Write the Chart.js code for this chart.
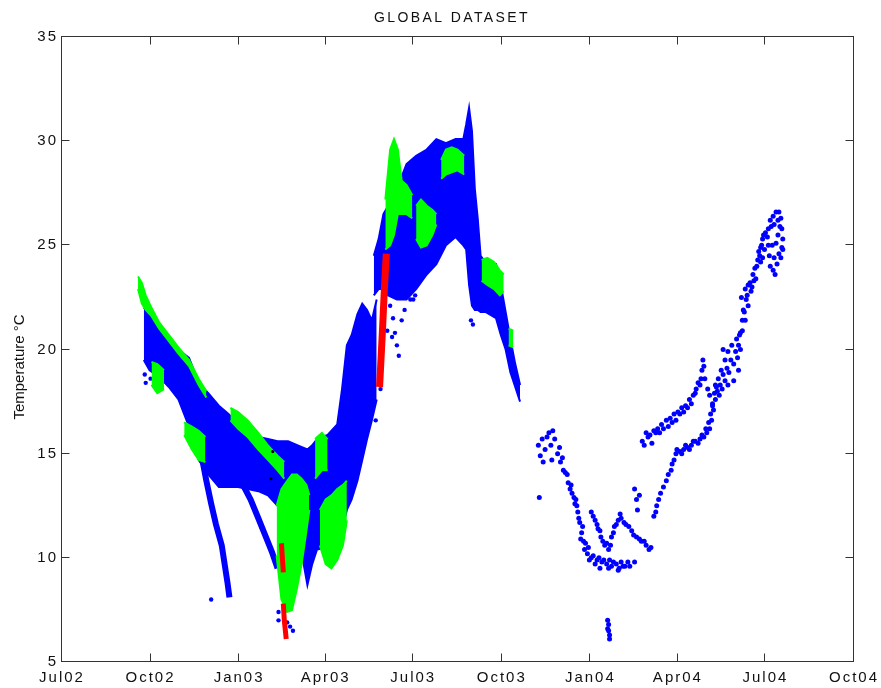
<!DOCTYPE html>
<html>
<head>
<meta charset="utf-8">
<title>GLOBAL DATASET</title>
<script src="https://cdn.jsdelivr.net/npm/chart.js@4.4.1/dist/chart.umd.min.js"></script>
<style>
  html, body { margin: 0; padding: 0; background: #fff; }
  canvas { display: block; }
</style>
</head>
<body>
<canvas id="chart" width="881" height="688"></canvas>
<script>
// x = days since 1 Jul 2002, y = temperature in °C
const tickDays = [0, 92, 184, 274, 365, 457, 549, 640, 731, 823];
const tickLabels = ['Jul02', 'Oct02', 'Jan03', 'Apr03', 'Jul03', 'Oct03', 'Jan04', 'Apr04', 'Jul04', 'Oct04'];
const tempTicks = [5, 10, 15, 20, 25, 30, 35];

// dense clouds: [day, lowest, highest]
const blueOct02Apr03 = [
  [85, 19.5, 22.0], [91, 19.0, 21.8], [101, 18.7, 21.1], [111, 18.2, 20.6], [121, 17.6, 20.0],
  [132, 16.3, 19.6], [142, 14.7, 18.4], [152, 14.0, 17.9], [163, 13.4, 17.3], [173, 13.4, 16.9],
  [183, 13.4, 16.4], [193, 13.3, 16.1], [204, 13.2, 15.8], [214, 13.0, 15.7], [224, 12.5, 15.6],
  [235, 12.4, 15.6], [245, 11.8, 15.4], [250, 10.0, 15.3], [255, 8.7, 15.2], [260, 9.7, 15.4],
  [265, 10.4, 15.7], [276, 10.5, 15.9], [286, 10.9, 16.4], [291, 11.3, 18.1], [296, 12.3, 20.2],
  [301, 12.8, 20.7], [307, 13.7, 21.7], [312, 14.7, 22.2], [317, 15.7, 21.9], [322, 16.6, 21.4],
  [327, 17.6, 22.4]
];
const blueMay03Oct03 = [
  [324, 22.6, 24.5], [329, 22.9, 25.3], [334, 22.9, 26.5], [339, 22.6, 26.9], [348, 22.4, 27.7],
  [358, 22.4, 28.9], [368, 22.9, 29.3], [379, 23.6, 29.6], [389, 24.1, 30.1], [399, 25.0, 29.9],
  [409, 25.4, 30.1], [417, 25.0, 30.1], [420, 24.8, 30.8], [423, 23.1, 31.6], [426, 22.1, 30.5],
  [429, 21.9, 27.7], [432, 21.9, 26.3], [435, 21.8, 24.5], [440, 21.8, 24.2], [451, 21.5, 24.1],
  [456, 20.7, 23.1], [461, 20.0, 21.8], [466, 18.9, 20.5], [471, 18.2, 19.3], [476, 17.5, 18.3]
];

const greenOct02Edge = [
  [79, 22.9, 23.5], [83, 22.2, 23.2], [87, 21.9, 22.6], [93, 21.6, 22.0], [101, 21.0, 21.3],
  [111, 20.4, 20.7], [121, 19.8, 20.1], [132, 19.2, 19.5], [142, 18.3, 18.6], [150, 17.7, 18.0]
];
const greenOct02Patch = [[93, 18.3, 19.4], [99, 17.9, 19.3], [106, 18.1, 19.0]];
const greenDec02Patch = [[127, 15.9, 16.5], [135, 15.2, 16.3], [142, 14.7, 16.1], [149, 14.6, 15.8]];
const greenJan03Ridge = [
  [175, 16.6, 17.2], [183, 16.2, 17.0], [193, 15.8, 16.6], [204, 15.2, 16.0],
  [214, 14.7, 15.4], [224, 14.2, 14.9], [231, 13.8, 14.6]
];
const greenFeb03Lobe = [
  [223, 10.1, 12.5], [228, 8.0, 13.3], [234, 7.4, 13.7], [239, 7.5, 14.0],
  [244, 8.5, 14.0], [249, 9.7, 13.8], [254, 11.3, 13.5], [257, 12.3, 13.0]
];
const greenMar03Top = [[263, 13.8, 15.7], [270, 14.2, 16.0], [276, 14.2, 15.7]];
const greenMar03Lobe = [[268, 10.6, 12.3], [274, 9.7, 12.8], [280, 9.5, 13.0], [286, 9.9, 13.3], [292, 10.6, 13.5], [296, 11.8, 13.7]];
const greenJun03Peak = [[336, 24.8, 27.2], [341, 25.0, 29.6], [345, 25.5, 30.1], [349, 26.5, 29.6], [353, 26.5, 28.1], [358, 26.5, 27.9], [364, 26.3, 27.4]];
const greenJul03 = [[368, 25.3, 26.9], [373, 24.9, 27.2], [379, 25.0, 26.9], [385, 25.5, 26.7], [389, 26.0, 26.5]];
const greenAug03 = [[394, 28.2, 29.1], [399, 28.4, 29.6], [405, 28.5, 29.7], [411, 28.6, 29.6], [418, 28.4, 29.3]];
const greenSep03 = [[436, 23.3, 24.3], [442, 23.1, 24.4], [449, 22.9, 24.2], [455, 22.6, 23.8], [459, 22.8, 23.6]];
const greenOct03 = [[464, 20.2, 21.0], [469, 20.1, 20.9]];

// streaks: [day, temperature]
const blueStreakDec02 = [[145, 14.9], [150, 13.7], [155, 12.6], [160, 11.6], [166, 10.6], [169, 9.7], [172, 8.8], [174, 8.1]];
const blueStreakJan03 = [[188, 13.5], [196, 12.8], [204, 11.9], [211, 11.1], [218, 10.3], [224, 9.5]];
const redFeb03Upper = [[228, 10.7], [229, 10.0], [230, 9.3]];
const redFeb03Lower = [[230, 7.8], [231, 7.0], [233, 6.1]];
const redMay03 = [[330, 18.2], [333, 20.9], [335, 22.9], [337, 24.6]];

// single readings: [day, temperature]
const blueScatter2003 = [
  [87, 18.4], [92, 18.6], [86, 18.8], [155, 8.0], [225, 7.4], [225, 7.0], [234, 6.9], [237, 6.7], [240, 6.5],
  [341, 22.1], [344, 21.5], [346, 20.8], [348, 20.2], [350, 19.7], [343, 20.6], [353, 21.4], [356, 21.9],
  [338, 20.9], [332, 19.5], [331, 18.1], [326, 16.6], [362, 22.4], [365, 22.4], [367, 22.6], [425, 21.4], [427, 21.2]
];
const blackMarks = [[219, 15.1], [217, 13.8]];
const blueNov03Jan04 = [
  [495, 15.4], [497, 14.9], [499, 15.7], [502, 15.2], [504, 15.8], [506, 16.0], [508, 15.4], [510, 16.1],
  [512, 15.7], [509, 14.7], [500, 14.6], [496, 12.9], [515, 15.0], [518, 14.6], [523, 14.1], [526, 13.6],
  [530, 13.1], [533, 12.6], [536, 12.2], [538, 11.7], [540, 11.2], [542, 10.8], [543, 10.4], [546, 10.2],
  [550, 10.0], [556, 9.9], [561, 9.8], [566, 9.7], [571, 9.6], [576, 9.7], [581, 9.8], [585, 9.6], [590, 9.6],
  [521, 14.2], [528, 13.3], [535, 12.5], [539, 10.9], [548, 9.9], [559, 9.5], [569, 9.9], [579, 9.5], [595, 9.8],
  [517, 15.3], [520, 14.8], [525, 14.0], [529, 13.5], [532, 12.9], [534, 12.8], [537, 11.9], [541, 11.5],
  [544, 10.7], [547, 10.5], [552, 10.1], [554, 9.7], [558, 10.0], [563, 9.9], [568, 9.5], [573, 9.8],
  [578, 9.4], [583, 9.6], [588, 9.8],
  [567, 7.0], [568, 6.8], [568, 6.5], [569, 6.3], [569, 6.1], [567, 6.6]
];
const blueJan04Apr04 = [
  [550, 12.2], [554, 11.8], [557, 11.4], [560, 11.0], [564, 10.6], [568, 10.4], [571, 11.0], [574, 11.5],
  [578, 11.8], [581, 11.9], [586, 11.6], [592, 11.3], [597, 11.0], [602, 10.8], [607, 10.6], [612, 10.5],
  [552, 12.0], [556, 11.6], [559, 11.3], [562, 10.8], [566, 10.7], [570, 10.6], [573, 11.2], [576, 11.6],
  [580, 12.1], [584, 11.7], [589, 11.5], [594, 11.1], [600, 10.9], [605, 10.8], [610, 10.4],
  [595, 13.3], [597, 12.8], [600, 13.0], [598, 12.3], [615, 12.0], [618, 12.5], [622, 13.1], [628, 13.7],
  [633, 14.2], [636, 14.7], [639, 15.2], [617, 12.2], [620, 12.8], [625, 13.4], [630, 14.0], [634, 14.5], [638, 15.0],
  [642, 15.1], [646, 15.2], [650, 15.3], [654, 15.4], [658, 15.6],
  [663, 15.7], [667, 15.8], [670, 16.0], [673, 16.2], [675, 16.6], [677, 17.1], [679, 17.6], [681, 18.0],
  [644, 15.0], [648, 15.4], [652, 15.2], [656, 15.6], [661, 15.5], [665, 15.9], [669, 16.2], [672, 16.5],
  [674, 16.9], [676, 17.4], [678, 17.9], [680, 18.2],
  [603, 15.6], [607, 16.0], [611, 15.9], [615, 16.1], [619, 16.2], [623, 16.4], [628, 16.6], [632, 16.7],
  [636, 16.9], [640, 17.0], [644, 17.2], [648, 17.3], [652, 17.6], [656, 17.8], [659, 18.1], [663, 18.3],
  [665, 19.0], [666, 19.5], [668, 18.6], [671, 18.1], [673, 17.8], [676, 17.3],
  [605, 15.4], [613, 15.5], [621, 16.0], [630, 16.3], [638, 16.6], [646, 17.0], [654, 17.4],
  [609, 15.8], [617, 16.0], [625, 16.2], [634, 16.5], [642, 16.9], [650, 17.2], [658, 17.9], [661, 18.4],
  [664, 18.6], [667, 19.2]
];
const blueApr04Jul04 = [
  [684, 18.3], [687, 18.8], [691, 19.1], [695, 19.5], [700, 19.9], [703, 20.2],
  [683, 17.8], [686, 18.1], [689, 18.5], [693, 18.9], [698, 19.3], [702, 19.6], [705, 20.0],
  [682, 18.6], [685, 19.0], [689, 19.5], [692, 19.9], [696, 20.2], [701, 20.5], [704, 20.7],
  [687, 20.0], [692, 18.3], [698, 18.5], [703, 19.0], [679, 18.3],
  [705, 20.8], [707, 21.4], [708, 21.9], [706, 22.5], [710, 22.9], [713, 23.1], [715, 23.2], [718, 23.6],
  [720, 23.9], [723, 24.3], [725, 24.5], [726, 24.9], [728, 25.3], [731, 25.6], [734, 25.8], [736, 26.2],
  [739, 26.4], [742, 26.6], [745, 26.6], [747, 26.3], [748, 25.8], [749, 25.3], [749, 24.8], [747, 24.4],
  [743, 24.1], [741, 23.6], [739, 23.8], [735, 24.5], [738, 25.0], [742, 25.1], [744, 25.5], [730, 24.8],
  [726, 24.2], [711, 22.4], [716, 22.8], [721, 23.4], [728, 24.4], [734, 25.0], [710, 21.4], [713, 22.1],
  [707, 20.9], [709, 21.8], [712, 22.6], [717, 23.0], [719, 23.3], [722, 24.0], [724, 24.7], [727, 25.0],
  [729, 25.5], [733, 25.4], [737, 25.9], [740, 26.0], [744, 26.2], [746, 25.9], [748, 24.9], [745, 24.6],
  [740, 24.4], [736, 24.0]
];

const BLUE = '#0000ff';
const GREEN = '#00ff00';
const RED = '#ff0000';
const FONT = "'Liberation Sans', Arial, Helvetica, sans-serif";

const datasets = [];

// filled envelope between lowest and highest reading
function band(rows, color, order) {
  datasets.push({
    type: 'line', order, data: rows.map(r => ({ x: r[0], y: r[1] })),
    borderColor: color, borderWidth: 2, pointRadius: 0, fill: false
  });
  datasets.push({
    type: 'line', order, data: rows.map(r => ({ x: r[0], y: r[2] })),
    borderColor: color, borderWidth: 2, pointRadius: 0, fill: '-1', backgroundColor: color
  });
}

function streak(rows, color, order, width) {
  datasets.push({
    type: 'line', order, data: rows.map(r => ({ x: r[0], y: r[1] })),
    borderColor: color, borderWidth: width, pointRadius: 0, fill: false
  });
}

function dots(rows, color, order, radius) {
  datasets.push({
    type: 'line', order, showLine: false, data: rows.map(r => ({ x: r[0], y: r[1] })),
    pointRadius: radius, pointBorderWidth: 0, pointBackgroundColor: color, borderColor: color
  });
}

band(blueOct02Apr03, BLUE, 3);
band(blueMay03Oct03, BLUE, 3);
streak(blueStreakDec02, BLUE, 3, 6);
streak(blueStreakJan03, BLUE, 3, 6);
dots(blueScatter2003, BLUE, 3, 2.2);
dots(blueNov03Jan04, BLUE, 3, 2.5);
dots(blueJan04Apr04, BLUE, 3, 2.5);
dots(blueApr04Jul04, BLUE, 3, 2.5);

[greenOct02Edge, greenOct02Patch, greenDec02Patch, greenJan03Ridge, greenFeb03Lobe, greenMar03Top,
 greenMar03Lobe, greenJun03Peak, greenJul03, greenAug03, greenSep03, greenOct03].forEach(g => band(g, GREEN, 2));

streak(redFeb03Upper, RED, 1, 5);
streak(redFeb03Lower, RED, 1, 5);
streak(redMay03, RED, 1, 7);
dots(blackMarks, '#000', 0, 1.6);

// Рамка, внутренние засечки и подписи
const framePlugin = {
  id: 'frame',
  beforeDraw(chart) {
    chart.ctx.letterSpacing = '2px';
  },
  afterDraw(chart) {
    const { ctx, chartArea: a, scales } = chart;
    const L = Math.round(a.left) - 0.5, R = Math.round(a.right) - 0.5;
    const T = Math.round(a.top) - 0.5, B = Math.round(a.bottom) - 0.5;
    ctx.save();
    ctx.strokeStyle = '#333';
    ctx.lineWidth = 1;
    ctx.setLineDash([]);
    ctx.strokeRect(L, T, R - L, B - T);
    ctx.beginPath();
    tickDays.forEach(v => {
      const px = Math.round(scales.x.getPixelForValue(v)) - 0.5;
      ctx.moveTo(px, B); ctx.lineTo(px, B - 8);
      ctx.moveTo(px, T); ctx.lineTo(px, T + 8);
    });
    tempTicks.forEach(v => {
      const py = Math.round(scales.y.getPixelForValue(v)) - 0.5;
      ctx.moveTo(L, py); ctx.lineTo(L + 8, py);
      ctx.moveTo(R, py); ctx.lineTo(R - 8, py);
    });
    ctx.stroke();

    ctx.fillStyle = '#111';
    ctx.letterSpacing = '2.4px';
    ctx.font = '14px ' + FONT;
    ctx.textAlign = 'center';
    ctx.textBaseline = 'alphabetic';
    ctx.fillText('GLOBAL DATASET', (a.left + a.right) / 2 - 6, 22);

    ctx.letterSpacing = '0px';
    ctx.font = '15px ' + FONT;
    ctx.translate(20, 367);
    ctx.rotate(-Math.PI / 2);
    ctx.textBaseline = 'middle';
    ctx.fillText('Temperature °C', 0, 0);
    ctx.restore();
  }
};

new Chart(document.getElementById('chart'), {
  type: 'line',
  data: { datasets },
  options: {
    responsive: false,
    animation: false,
    events: [],
    layout: { padding: { top: 37, right: 19, bottom: 0, left: 0 }, autoPadding: false },
    plugins: {
      legend: { display: false },
      tooltip: { enabled: false },
      title: { display: false }
    },
    scales: {
      x: {
        type: 'linear', min: 0, max: 823,
        grid: { display: false, drawTicks: false },
        border: { display: false },
        afterBuildTicks: s => { s.ticks = tickDays.map(v => ({ value: v })); },
        afterFit: s => { s.height = 26; },
        ticks: {
          autoSkip: false, maxRotation: 0, padding: 7, color: '#111',
          font: { family: FONT, size: 15 },
          callback: (v, i) => tickLabels[i]
        }
      },
      y: {
        type: 'linear', min: 5, max: 35,
        grid: { display: false, drawTicks: false },
        border: { display: false },
        afterBuildTicks: s => { s.ticks = tempTicks.map(v => ({ value: v })); },
        afterFit: s => { s.width = 62; },
        ticks: { padding: 4, color: '#111', font: { family: FONT, size: 15 } }
      }
    }
  },
  plugins: [framePlugin]
});
</script>
</body>
</html>
